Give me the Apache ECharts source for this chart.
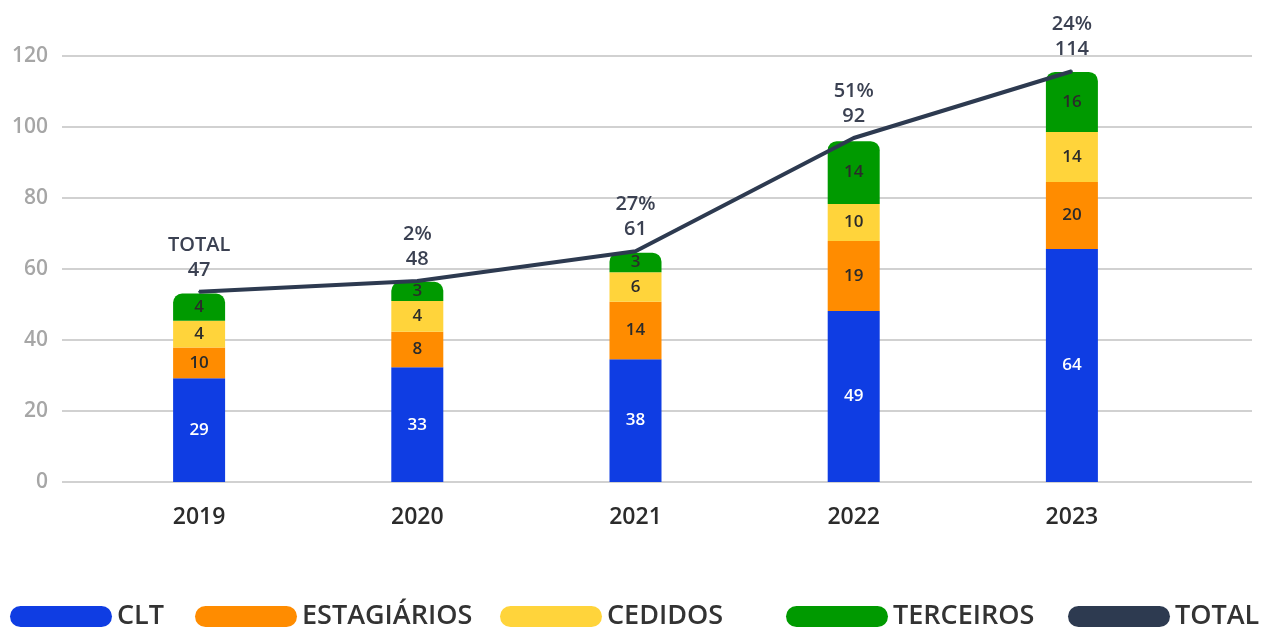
<!DOCTYPE html>
<html>
<head>
<meta charset="utf-8">
<title>Quadro de pessoal</title>
<script src="https://cdn.jsdelivr.net/npm/echarts@6/dist/echarts.min.js"></script>
<style>
  html, body { margin: 0; padding: 0; background: #fff; }
  #main { width: 1263px; height: 630px; }
</style>
</head>
<body>
<div id="main"></div>
<script>
// categorias
const years = ['2019', '2020', '2021', '2022', '2023']

// alturas das barras como aparecem no grafico
const cltBar = [29.2, 32.3, 34.6, 48.2, 65.6]
const estBar = [8.7, 10.0, 16.2, 19.7, 18.9]
const cedBar = [7.5, 8.7, 8.3, 10.4, 14.1]
const terBar = [7.7, 5.4, 5.5, 17.7, 16.9]
const totalLine = [53.6, 56.6, 65.0, 96.9, 115.7]

// rotulos impressos
const cltLabels = [29, 33, 38, 49, 64]
const estLabels = [10, 8, 14, 19, 20]
const cedLabels = [4, 4, 6, 10, 14]
const terLabels = [4, 3, 3, 14, 16]
const totalLabels = [47, 48, 61, 92, 114]
const growthLabels = ['TOTAL', '2%', '27%', '51%', '24%']

const yTicks = [0, 20, 40, 60, 80, 100, 120]

const FONT = '"Open Sans", "DejaVu Sans", sans-serif'
const pill = 'path://M10.5,0H91.5A10.5,10.5,0,0,1,91.5,21H10.5A10.5,10.5,0,0,1,10.5,0Z'

function inside(labels, color) {
  return {
    show: true,
    position: 'inside',
    fontFamily: FONT,
    fontSize: 17,
    fontWeight: 600,
    color: color,
    formatter: p => labels[p.dataIndex]
  }
}

function legendAt(name, left) {
  return {
    data: [name],
    left: left,
    top: 603,
    padding: 0,
    icon: pill,
    itemWidth: 102,
    itemHeight: 21,
    selectedMode: false,
    textStyle: {
      fontFamily: FONT,
      fontSize: 27,
      fontWeight: 600,
      color: '#333333'
    }
  }
}

const myChart = echarts.init(document.getElementById('main'))
const option = {
  animation: false,
  color: ['#0f3de3', '#ff8c00', '#ffd43b', '#009a00', '#2d3a50'],
  legend: [
    legendAt('CLT', 10),
    legendAt('ESTAGIÁRIOS', 195),
    legendAt('CEDIDOS', 500),
    legendAt('TERCEIROS', 786),
    legendAt('TOTAL', 1068)
  ],
  grid: [
    { left: 62, right: 11, top: 56, bottom: 148 },
    { left: 90, right: 82, top: 56, bottom: 148 }
  ],
  xAxis: [
    { type: 'category', gridIndex: 0, data: years, show: false },
    {
      type: 'category',
      gridIndex: 1,
      data: years,
      axisLine: { show: false },
      axisTick: { show: false },
      axisLabel: {
        margin: 24,
        fontFamily: FONT,
        fontSize: 23,
        fontWeight: 600,
        color: '#2b2b2b'
      }
    }
  ],
  yAxis: [
    {
      type: 'value',
      gridIndex: 0,
      min: yTicks[0],
      max: yTicks[yTicks.length - 1],
      interval: 20,
      axisLine: { show: false },
      axisTick: { show: false },
      axisLabel: {
        margin: 14,
        fontFamily: FONT,
        fontSize: 21,
        fontWeight: 600,
        color: '#a6a6a6'
      },
      splitLine: { lineStyle: { color: '#c2c2c2', width: 1.5 } }
    },
    {
      type: 'value',
      gridIndex: 1,
      min: yTicks[0],
      max: yTicks[yTicks.length - 1],
      interval: 20,
      show: false
    }
  ],
  series: [
    {
      name: 'CLT', type: 'bar', stack: 'a', xAxisIndex: 1, yAxisIndex: 1,
      barWidth: 52, data: cltBar, label: inside(cltLabels, '#ffffff')
    },
    {
      name: 'ESTAGIÁRIOS', type: 'bar', stack: 'a', xAxisIndex: 1, yAxisIndex: 1,
      barWidth: 52, data: estBar, label: inside(estLabels, '#2b2b2b')
    },
    {
      name: 'CEDIDOS', type: 'bar', stack: 'a', xAxisIndex: 1, yAxisIndex: 1,
      barWidth: 52, data: cedBar, label: inside(cedLabels, '#2b2b2b')
    },
    {
      name: 'TERCEIROS', type: 'bar', stack: 'a', xAxisIndex: 1, yAxisIndex: 1,
      barWidth: 52, data: terBar, label: inside(terLabels, '#2b2b2b'),
      itemStyle: { borderRadius: [9, 9, 0, 0] }
    },
    {
      name: 'TOTAL', type: 'line', xAxisIndex: 1, yAxisIndex: 1,
      data: totalLine,
      symbol: 'circle',
      symbolSize: 2,
      lineStyle: { width: 4, color: '#2d3a50' },
      label: {
        show: true,
        position: 'top',
        distance: 8,
        fontFamily: FONT,
        fontSize: 20,
        fontWeight: 600,
        lineHeight: 25,
        color: '#3b4152',
        formatter: p => growthLabels[p.dataIndex] + '\n' + totalLabels[p.dataIndex]
      }
    }
  ]
}
myChart.setOption(option)
window.addEventListener('resize', function() {
  myChart.resize()
})
</script>
</body>
</html>
